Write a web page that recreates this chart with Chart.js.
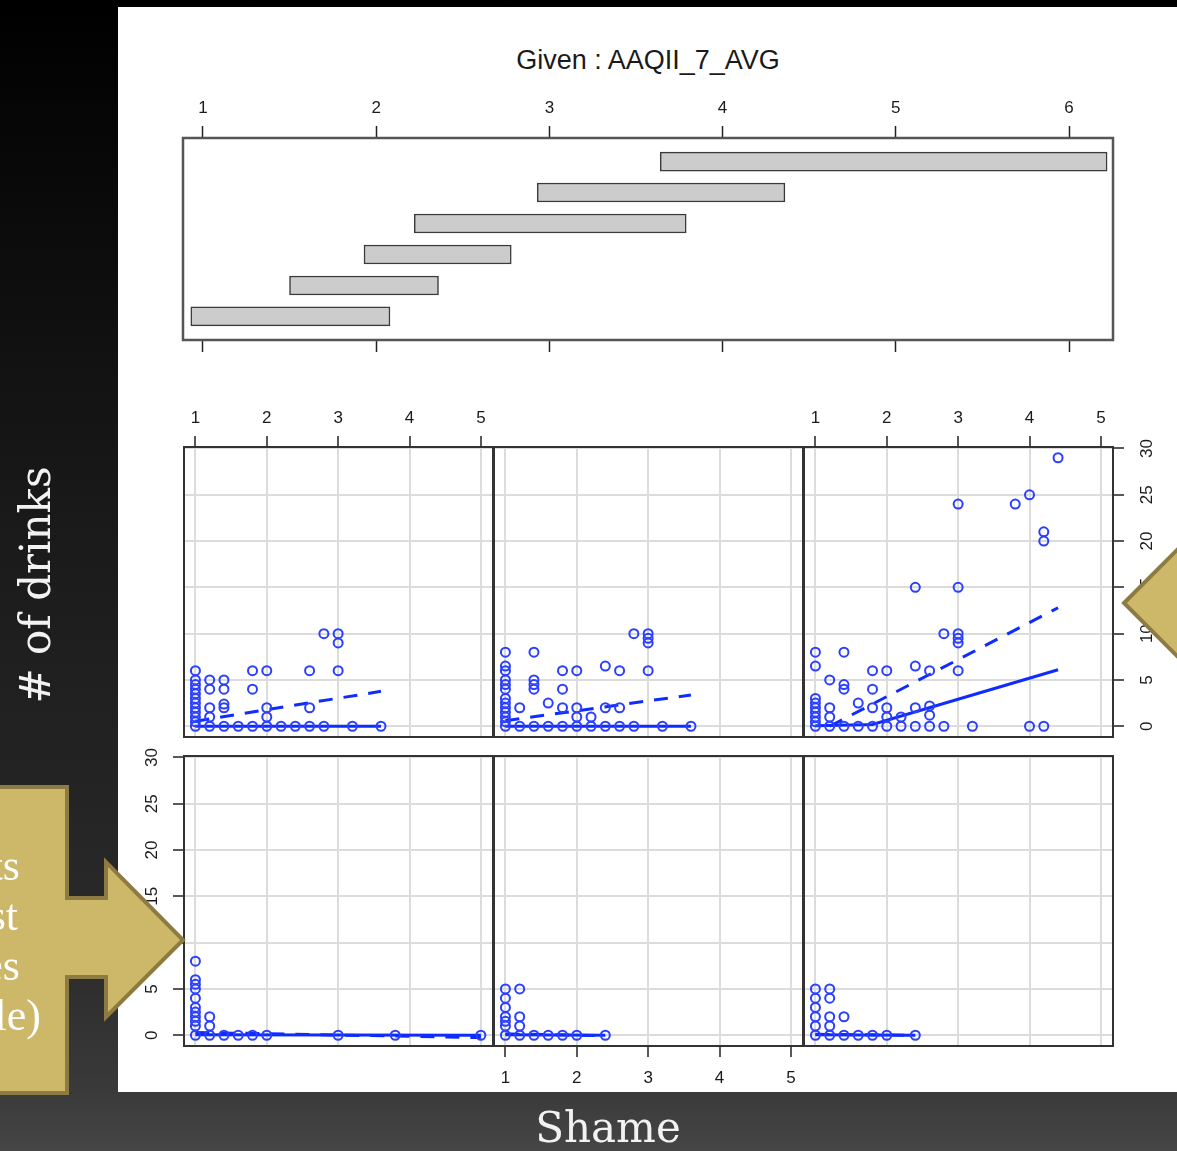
<!DOCTYPE html>
<html>
<head>
<meta charset="utf-8">
<title>Coplot: # of drinks vs Shame, given AAQII_7_AVG</title>
<script src="https://cdn.jsdelivr.net/npm/chart.js@4.4.1/dist/chart.umd.min.js"></script>
<style>
  html, body { margin: 0; padding: 0; }
  body {
    width: 1177px; height: 1151px; position: relative; overflow: hidden;
    background: linear-gradient(to bottom, #000 0px, #1b1b1b 550px, #2a2a2a 950px, #3a3a3a 1091px, #464646 1151px);
  }
  #sheet { position: absolute; left: 118px; top: 7px; width: 1059px; height: 1085px; background: #fff; }
  canvas { position: absolute; }
  #title {
    position: absolute; left: 183px; width: 930px; top: 45px; line-height: 30px;
    text-align: center; font: 27px "Liberation Sans", Arial, sans-serif; color: #1a1a1a;
  }
  #overlay { position: absolute; left: 0; top: 0; }
</style>
</head>
<body>
<div id="sheet"></div>
<div id="title">Given : AAQII_7_AVG</div>
<canvas id="given"></canvas>
<canvas id="p4"></canvas>
<canvas id="p5"></canvas>
<canvas id="p6"></canvas>
<canvas id="p1"></canvas>
<canvas id="p2"></canvas>
<canvas id="p3"></canvas>

<svg id="overlay" width="1177" height="1151" viewBox="0 0 1177 1151">
  <!-- left callout -->
  <polygon points="-10,787 67,787 67,898 106,898 106,862 183,940 106,1017 106,977 67,977 67,1093 -10,1093"
    fill="#cdb769" stroke="#8d7b43" stroke-width="4" stroke-linejoin="miter"/>
  <g font-family="Liberation Serif" font-size="44" fill="#fff" text-anchor="end">
    <text x="20" y="880">Effects</text>
    <text x="18" y="930">strongest</text>
    <text x="20" y="980">at high values</text>
    <text x="41" y="1030">(of the variable)</text>
  </g>
  <!-- right callout -->
  <polygon points="1124,603 1178,549 1200,549 1200,657 1178,657"
    fill="#cdb769" stroke="#8d7b43" stroke-width="4" stroke-linejoin="miter"/>
  <!-- slide axis titles -->
  <text transform="translate(50,585) rotate(-90)" text-anchor="middle"
    font-family="DejaVu Serif" font-size="42" fill="#f2f2f2"># of drinks</text>
  <text x="608" y="1142" text-anchor="middle"
    font-family="DejaVu Serif" font-size="42" fill="#f2f2f2">Shame</text>
</svg>

<script>
// ---- data: conditioning intervals of AAQII_7_AVG ----
const givenLo = [0.93, 1.50, 1.93, 2.22, 2.93, 3.64];
const givenHi = [2.08, 2.36, 2.78, 3.79, 4.36, 6.22];
const givenTicks = [1, 2, 3, 4, 5, 6];
const shameTicks = [1, 2, 3, 4, 5];
const drinksTicks = [0, 5, 10, 15, 20, 25, 30];

// panel 1 (lowest interval, bottom left)
const shame1  = [1, 1, 1, 1, 1, 1, 1, 1, 1, 1, 1, 1.2, 1.2, 1.2, 1.4, 1.6, 1.8, 2, 3, 3.8, 5];
const drinks1 = [0, 1, 1.5, 2, 2.5, 3, 4, 5, 5.5, 6, 8, 0, 1, 2, 0, 0, 0, 0, 0, 0, 0];
const solid1X = [1, 5],   solid1Y = [0.05, 0];
const dash1X  = [1, 5],   dash1Y  = [0.3, -0.25];

// panel 2 (bottom middle)
const shame2  = [1, 1, 1, 1, 1, 1, 1, 1.2, 1.2, 1.2, 1.2, 1.4, 1.6, 1.8, 2, 2.4];
const drinks2 = [0, 1, 1.5, 2, 3, 4, 5, 0, 1, 2, 5, 0, 0, 0, 0, 0];
const solid2X = [1, 2.4], solid2Y = [0.05, 0];
const dash2X  = [1, 2.4], dash2Y  = [0.15, -0.05];

// panel 3 (bottom right)
const shame3  = [1, 1, 1, 1, 1, 1, 1.2, 1.2, 1.2, 1.2, 1.2, 1.4, 1.4, 1.6, 1.8, 2, 2.4];
const drinks3 = [0, 1, 2, 3, 4, 5, 0, 1, 2, 4, 5, 0, 2, 0, 0, 0, 0];
const solid3X = [1, 2.4], solid3Y = [0.05, 0];
const dash3X  = [1, 2.4], dash3Y  = [0.1, 0];

// panel 4 (top left)
const shame4  = [1, 1, 1, 1, 1, 1, 1, 1, 1, 1, 1, 1, 1.2, 1.2, 1.2, 1.2, 1.2, 1.4, 1.4, 1.4, 1.4, 1.4,
                 1.6, 1.8, 1.8, 1.8, 2, 2, 2, 2, 2.2, 2.4, 2.6, 2.6, 2.6, 2.8, 2.8, 3, 3, 3, 3.2, 3.6];
const drinks4 = [0, 0.5, 1, 1.5, 2, 2.5, 3, 3.5, 4, 4.5, 5, 6, 0, 1, 2, 4, 5, 0, 2, 2.4, 4, 5,
                 0, 0, 4, 6, 0, 1, 2, 6, 0, 0, 0, 2, 6, 0, 10, 6, 9, 10, 0, 0];
const solid4X = [1, 3.6], solid4Y = [0, 0];
const dash4X  = [1, 3.6], dash4Y  = [0.55, 3.77];

// panel 5 (top middle)
const shame5  = [1, 1, 1, 1, 1, 1, 1, 1, 1, 1, 1, 1, 1, 1.2, 1.2, 1.4, 1.4, 1.4, 1.4, 1.4, 1.6, 1.6,
                 1.8, 1.8, 1.8, 1.8, 2, 2, 2, 2, 2.2, 2.2, 2.4, 2.4, 2.4, 2.6, 2.6, 2.6, 2.8, 2.8,
                 3, 3, 3, 3, 3.2, 3.6];
const drinks5 = [0, 0.5, 1, 1.5, 2, 2.5, 3, 4, 4.5, 5, 6, 6.5, 8, 0, 2, 0, 4, 4.5, 5, 8, 0, 2.5,
                 0, 2, 4, 6, 0, 1, 2, 6, 0, 1, 0, 2, 6.5, 0, 2, 6, 0, 10,
                 6, 9, 9.5, 10, 0, 0];
const solid5X = [1, 3.6], solid5Y = [0, 0];
const dash5X  = [1, 3.6], dash5Y  = [0.6, 3.38];

// panel 6 (highest interval, top right)
const shame6  = [1, 1, 1, 1, 1, 1, 1, 1, 1, 1.2, 1.2, 1.2, 1.2, 1.4, 1.4, 1.4, 1.4, 1.6, 1.6,
                 1.8, 1.8, 1.8, 1.8, 2, 2, 2, 2, 2.2, 2.2, 2.4, 2.4, 2.4, 2.4, 2.6, 2.6, 2.6, 2.6,
                 2.8, 2.8, 3, 3, 3, 3, 3, 3, 3.2, 3.8, 4, 4, 4.2, 4.2, 4.2, 4.4];
const drinks6 = [0, 0.5, 1, 1.5, 2, 2.5, 3, 6.5, 8, 0, 1, 2, 5, 0, 4, 4.5, 8, 0, 2.5,
                 0, 2, 4, 6, 0, 1, 2, 6, 0, 1, 0, 2, 6.5, 15, 0, 1.2, 2.2, 6,
                 0, 10, 6, 9, 9.5, 10, 15, 24, 0, 24, 0, 25, 0, 20, 21, 29];
const solid6X = [1, 1.8, 4.4], solid6Y = [0.05, 0.2, 6.1];
const dash6X  = [1.2, 4.4],    dash6Y  = [0, 12.8];

// ---- look ----
const M = 60;
const FONT = '"Liberation Sans", Arial, sans-serif';
const GRID = '#dcdcdc', TICK = '#222', LABEL = '#1a1a1a';
const PT_BLUE = '#2a3fff', LN_BLUE = '#0f2cff';
const SHAME_MIN = 0.84, SHAME_MAX = 5.17;
const DRINK_MIN = -1.16, DRINK_MAX = 30.16;

function pts(xs, ys) { return xs.map((x, i) => ({ x: x, y: ys[i] })); }

// box around each panel, drawn like R's
const frame = {
  id: 'frame',
  afterDraw(chart, args, o) {
    const a = chart.chartArea, ctx = chart.ctx;
    ctx.save();
    ctx.strokeStyle = o.color || '#333';
    ctx.lineWidth = o.width || 2;
    ctx.strokeRect(a.left, a.top, a.right - a.left, a.bottom - a.top);
    ctx.restore();
  }
};

// R prints y labels parallel to the axis
const yLabels = {
  id: 'yLabels',
  afterDraw(chart, args, o) {
    if (!o.side) return;
    const s = chart.scales.y, a = chart.chartArea, ctx = chart.ctx;
    const x = o.side === 'left' ? a.left - o.offset : a.right + o.offset;
    ctx.save();
    ctx.font = '17px ' + FONT;
    ctx.fillStyle = LABEL;
    ctx.textAlign = 'center';
    ctx.textBaseline = 'middle';
    s.ticks.forEach(t => {
      ctx.save();
      ctx.translate(x, s.getPixelForValue(t.value));
      ctx.rotate(-Math.PI / 2);
      ctx.fillText(String(t.value), 0, 0);
      ctx.restore();
    });
    ctx.restore();
  }
};

function shameAxis(pos, show) {
  return {
    type: 'linear', position: pos, min: SHAME_MIN, max: SHAME_MAX,
    afterBuildTicks: s => { s.ticks = shameTicks.map(v => ({ value: v })); },
    afterFit: s => { s.height = M; },
    border: { display: false },
    grid: { color: GRID, lineWidth: 2, drawTicks: show, tickLength: 11, tickColor: TICK, tickWidth: 1.5 },
    ticks: { display: show, color: LABEL, font: { family: FONT, size: 17 },
             padding: pos === 'top' ? 7 : 11, minRotation: 0, maxRotation: 0, autoSkip: false }
  };
}

function drinksAxis(pos, show) {
  return {
    type: 'linear', position: pos, min: DRINK_MIN, max: DRINK_MAX,
    afterBuildTicks: s => { s.ticks = drinksTicks.map(v => ({ value: v })); },
    afterFit: s => { s.width = M; },
    border: { display: false },
    grid: { color: GRID, lineWidth: 2, drawTicks: show, tickLength: 11, tickColor: TICK, tickWidth: 1.5 },
    ticks: { display: false }
  };
}

// panel boxes: [left, top, width, height] in page pixels
const panels = [
  { id: 'p1', box: [184, 756, 309, 290], x: 'bottom', xShow: false, y: 'left',  yShow: true,
    sx: shame1, sy: drinks1, lx: solid1X, ly: solid1Y, dx: dash1X, dy: dash1Y },
  { id: 'p2', box: [494, 756, 309, 290], x: 'bottom', xShow: true,  y: 'left',  yShow: false,
    sx: shame2, sy: drinks2, lx: solid2X, ly: solid2Y, dx: dash2X, dy: dash2Y },
  { id: 'p3', box: [804, 756, 309, 290], x: 'bottom', xShow: false, y: 'left',  yShow: false,
    sx: shame3, sy: drinks3, lx: solid3X, ly: solid3Y, dx: dash3X, dy: dash3Y },
  { id: 'p4', box: [184, 447, 309, 290], x: 'top',    xShow: true,  y: 'left',  yShow: false,
    sx: shame4, sy: drinks4, lx: solid4X, ly: solid4Y, dx: dash4X, dy: dash4Y },
  { id: 'p5', box: [494, 447, 309, 290], x: 'top',    xShow: false, y: 'left',  yShow: false,
    sx: shame5, sy: drinks5, lx: solid5X, ly: solid5Y, dx: dash5X, dy: dash5Y },
  { id: 'p6', box: [804, 447, 309, 290], x: 'top',    xShow: true,  y: 'right', yShow: true,
    sx: shame6, sy: drinks6, lx: solid6X, ly: solid6Y, dx: dash6X, dy: dash6Y }
];

function place(c, box) {
  c.width = box[2] + 2 * M;
  c.height = box[3] + 2 * M;
  c.style.left = (box[0] - M) + 'px';
  c.style.top = (box[1] - M) + 'px';
}

panels.forEach(p => {
  const c = document.getElementById(p.id);
  place(c, p.box);
  const pad = { left: 0, right: 0, top: 0, bottom: 0 };
  pad[p.x === 'top' ? 'bottom' : 'top'] = M;
  pad[p.y === 'left' ? 'right' : 'left'] = M;

  new Chart(c, {
    type: 'scatter',
    data: {
      datasets: [
        { data: pts(p.sx, p.sy), showLine: false, pointRadius: 4.5, pointBorderWidth: 2,
          pointBorderColor: PT_BLUE, pointBackgroundColor: 'rgba(0,0,0,0)' },
        { data: pts(p.lx, p.ly), showLine: true, pointRadius: 0, borderColor: LN_BLUE, borderWidth: 3 },
        { data: pts(p.dx, p.dy), showLine: true, pointRadius: 0, borderColor: LN_BLUE, borderWidth: 3,
          borderDash: [14, 11] }
      ]
    },
    options: {
      responsive: false,
      animation: false,
      layout: { padding: pad },
      plugins: {
        legend: { display: false },
        tooltip: { enabled: false },
        frame: { color: '#333', width: 2 },
        yLabels: { side: p.yShow ? p.y : null, offset: p.y === 'left' ? 32 : 34 }
      },
      scales: { x: shameAxis(p.x, p.xShow), y: drinksAxis(p.y, p.yShow) }
    },
    plugins: [frame, yLabels]
  });
});

// ---- given panel: the six overlapping intervals ----
function givenAxis(pos, labels) {
  return {
    type: 'linear', position: pos, min: 0.885, max: 6.254,
    afterBuildTicks: s => { s.ticks = givenTicks.map(v => ({ value: v })); },
    afterFit: s => { s.height = M; },
    border: { display: false },
    grid: { drawOnChartArea: false, drawTicks: true, tickLength: 12, tickColor: TICK, tickWidth: 1.5 },
    ticks: { display: labels, color: LABEL, font: { family: FONT, size: 17 }, padding: 7,
             minRotation: 0, maxRotation: 0, autoSkip: false }
  };
}

const gc = document.getElementById('given');
place(gc, [183, 138, 930, 202]);
new Chart(gc, {
  type: 'bar',
  data: {
    datasets: [{
      data: givenLo.map((lo, i) => ({ x: [lo, givenHi[i]], y: i + 1 })),
      backgroundColor: '#cccccc',
      borderColor: '#3a3a3a',
      borderWidth: 1.5,
      borderSkipped: false,
      barThickness: 19
    }]
  },
  options: {
    indexAxis: 'y',
    responsive: false,
    animation: false,
    layout: { padding: { left: M, right: M } },
    plugins: {
      legend: { display: false },
      tooltip: { enabled: false },
      frame: { color: '#555', width: 2.5 }
    },
    scales: {
      x: givenAxis('top', true),
      x2: givenAxis('bottom', false),
      y: { type: 'linear', display: false, offset: false, min: 0.24, max: 6.76 }
    }
  },
  plugins: [frame]
});
</script>
</body>
</html>
